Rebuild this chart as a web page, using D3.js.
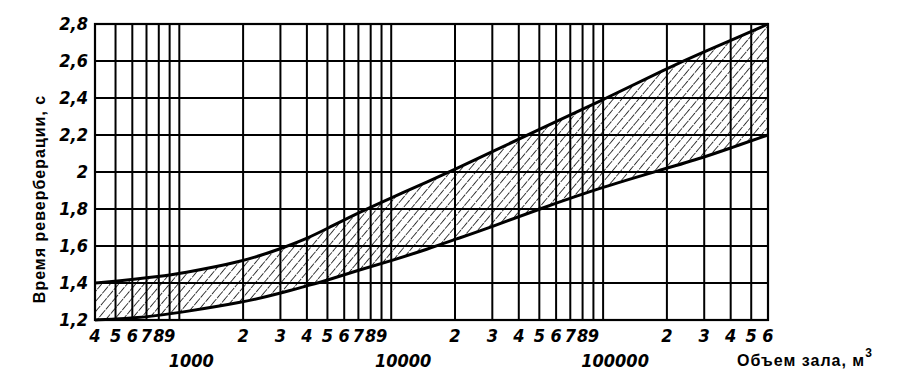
<!DOCTYPE html>
<html>
<head>
<meta charset="utf-8">
<script src="https://cdn.jsdelivr.net/npm/d3@7"></script>
<style>
  body { margin: 0; background: #fff; }
  .num { font-family: "DejaVu Sans Condensed", "DejaVu Sans", sans-serif; font-style: italic; font-weight: bold; font-size: 18px; }
  .title { font-family: "Liberation Sans", Arial, sans-serif; font-weight: bold; font-size: 16px; letter-spacing: 1px; }
</style>
</head>
<body>
<svg id="chart" width="899" height="381"></svg>
<script>
// объем зала, м3 и границы времени реверберации, с
const volumes = [400, 500, 600, 800, 1000, 2000, 3000, 4000, 5000, 7000, 10000, 15000, 20000, 30000, 50000, 100000, 200000, 300000, 400000, 600000]
const upperTime = [1.40, 1.41, 1.42, 1.435, 1.45, 1.515, 1.585, 1.64, 1.695, 1.78, 1.86, 1.95, 2.015, 2.11, 2.23, 2.39, 2.56, 2.65, 2.71, 2.80]
const lowerTime = [1.20, 1.205, 1.21, 1.225, 1.24, 1.295, 1.345, 1.385, 1.415, 1.47, 1.52, 1.585, 1.635, 1.705, 1.80, 1.92, 2.02, 2.08, 2.13, 2.20]

const yTicks = [1.2, 1.4, 1.6, 1.8, 2.0, 2.2, 2.4, 2.6, 2.8]
const xGrid = [400, 500, 600, 700, 800, 900, 1000, 2000, 3000, 4000, 5000, 6000, 7000, 8000, 9000,
    10000, 20000, 30000, 40000, 50000, 60000, 70000, 80000, 90000, 100000, 200000, 300000, 400000, 500000, 600000]
const decadeLabels = [1000, 10000, 100000]

const svg = d3.select("#chart")
const mLeft = 95, mRight = 768, mTop = 24, mBottom = 320

const x = d3.scaleLog().domain([400, 600000]).range([mLeft, mRight])
const y = d3.scaleLinear().domain([1.2, 2.8]).range([mBottom, mTop])

// штриховка
const defs = svg.append("defs")
const pat = defs.append("pattern")
    .attr("id", "hatch")
    .attr("patternUnits", "userSpaceOnUse")
    .attr("width", 6.5).attr("height", 10)
    .attr("patternTransform", "rotate(40)")
pat.append("line")
    .attr("x1", 0).attr("y1", 0).attr("x2", 0).attr("y2", 10)
    .attr("stroke", "#000").attr("stroke-width", 1.5)
    .attr("stroke-dasharray", "9 1")

const band = volumes.map((v, i) => ({ v: v, lo: lowerTime[i], hi: upperTime[i] }))

const area = d3.area()
    .x(d => x(d.v))
    .y0(d => y(d.lo))
    .y1(d => y(d.hi))
    .curve(d3.curveBasis)

svg.append("path")
    .datum(band)
    .attr("d", area)
    .attr("fill", "url(#hatch)")

// сетка
svg.append("g").selectAll("line")
    .data(xGrid)
    .enter()
    .append("line")
    .attr("x1", d => x(d)).attr("x2", d => x(d))
    .attr("y1", mTop).attr("y2", mBottom)
    .attr("stroke", "#000").attr("stroke-width", 2)

svg.append("g").selectAll("line")
    .data(yTicks)
    .enter()
    .append("line")
    .attr("x1", mLeft).attr("x2", mRight)
    .attr("y1", d => y(d)).attr("y2", d => y(d))
    .attr("stroke", "#000").attr("stroke-width", 2)

svg.append("rect")
    .attr("x", mLeft).attr("y", mTop)
    .attr("width", mRight - mLeft).attr("height", mBottom - mTop)
    .attr("fill", "none").attr("stroke", "#000").attr("stroke-width", 2.2)

// границы области
const lineHi = d3.line().x(d => x(d.v)).y(d => y(d.hi)).curve(d3.curveBasis)
const lineLo = d3.line().x(d => x(d.v)).y(d => y(d.lo)).curve(d3.curveBasis)
svg.append("path").datum(band).attr("d", lineHi)
    .attr("fill", "none").attr("stroke", "#000").attr("stroke-width", 3)
svg.append("path").datum(band).attr("d", lineLo)
    .attr("fill", "none").attr("stroke", "#000").attr("stroke-width", 3)

// подписи оси Y
svg.append("g").selectAll("text")
    .data(yTicks)
    .enter()
    .append("text")
    .attr("class", "num")
    .attr("x", mLeft - 7)
    .attr("y", d => y(d))
    .attr("dy", "0.36em")
    .attr("text-anchor", "end")
    .text(d => d3.format(".1f")(d).replace(/\.0$/, "").replace(".", ","))

// подписи оси X
const mantissa = xGrid.filter(d => decadeLabels.indexOf(d) < 0)
svg.append("g").selectAll("text")
    .data(mantissa)
    .enter()
    .append("text")
    .attr("class", "num")
    .attr("x", d => x(d))
    .attr("y", mBottom + 22)
    .attr("text-anchor", "middle")
    .text(d => String(d)[0])

svg.append("g").selectAll("text")
    .data(decadeLabels)
    .enter()
    .append("text")
    .attr("class", "num")
    .attr("x", d => x(d) + 12)
    .attr("y", mBottom + 47)
    .attr("text-anchor", "middle")
    .text(d => d)

svg.append("text")
    .attr("class", "title")
    .attr("transform", "translate(45,199) rotate(-90)")
    .attr("text-anchor", "middle")
    .text("Время реверберации, с")

const xt = svg.append("text")
    .attr("class", "title")
    .attr("x", 737)
    .attr("y", 366)
xt.append("tspan").text("Объем зала, м")
xt.append("tspan").attr("dy", -9).attr("font-size", 12).text("3")
</script>
</body>
</html>
